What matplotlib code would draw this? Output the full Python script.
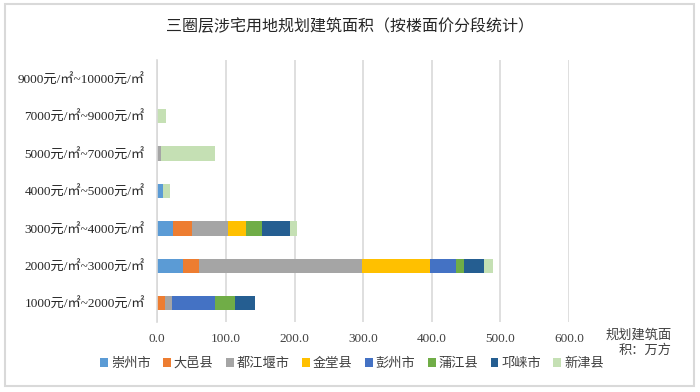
import matplotlib
matplotlib.use("Agg")
import matplotlib.pyplot as plt
from matplotlib.patches import Rectangle, Patch
import numpy as np

categories = ["1000元/㎡~2000元/㎡", "2000元/㎡~3000元/㎡", "3000元/㎡~4000元/㎡",
              "4000元/㎡~5000元/㎡", "5000元/㎡~7000元/㎡", "7000元/㎡~9000元/㎡",
              "9000元/㎡~10000元/㎡"]
series_names = ["崇州市", "大邑县", "都江堰市", "金堂县", "彭州市", "蒲江县", "邛崃市", "新津县"]
chongzhou = [0, 37.9, 23.3, 7.8, 0, 0, 0]
dayi = [11.7, 23.3, 27.2, 0, 0, 0, 0]
dujiangyan = [9.2, 237.6, 53.0, 0, 5.3, 0, 0]
jintang = [0, 98.6, 25.8, 0, 0, 0, 0]
pengzhou = [63.2, 37.4, 0, 0, 0, 0, 0]
pujiang = [29.2, 12.1, 23.3, 0, 0, 0, 0]
qionglai = [29.6, 28.7, 40.3, 0, 0, 0, 0]
xinjin = [0, 13.1, 11.2, 10.2, 78.2, 13.1, 0]
series = [chongzhou, dayi, dujiangyan, jintang, pengzhou, pujiang, qionglai, xinjin]
colors = ["#5B9BD5", "#ED7D31", "#A5A5A5", "#FFC000", "#4472C4", "#70AD47", "#255E91", "#C5E0B4"]
xticks = [0, 100, 200, 300, 400, 500, 600]
xlabel = "规划建筑面\n积：万方"
title = "三圈层涉宅用地规划建筑面积（按楼面价分段统计）"

fam = ["Liberation Serif", "Noto Sans CJK SC"]
plt.rcParams["font.family"] = fam

fig = plt.figure(figsize=(7.0, 3.92), dpi=100)
fig.patch.set_facecolor("white")
# outer border
fig.add_artist(Rectangle((5/700, 1-386/392), 689/700, 382/392, transform=fig.transFigure,
                         fill=False, edgecolor="#D9D9D9", linewidth=1.5))

ax = fig.add_axes([157.3/700, 1-322/392, (569-157.3)/700, 262/392])
y = np.arange(len(categories))
left = np.zeros(len(categories))
for vals, c, n in zip(series, colors, series_names):
    v = np.array(vals, dtype=float)
    ax.barh(y, v, left=left, height=0.38, color=c, label=n, linewidth=0)
    left += v

ax.set_xlim(0, 600)
ax.set_ylim(-0.5, len(categories) - 0.5)
ax.set_xticks(xticks)
ax.set_xticklabels([f"{t:.1f}" for t in xticks], fontsize=9.5, color="#404040")
ax.set_yticks(y)
ax.set_yticklabels(categories, fontsize=9.5, color="#262626")
ax.tick_params(axis="both", length=0)
ax.tick_params(axis="x", pad=8)
ax.tick_params(axis="y", pad=9)
for s in ["top", "right", "bottom"]:
    ax.spines[s].set_visible(False)
ax.spines["left"].set_color("#D9D9D9")
ax.spines["left"].set_linewidth(1.2)
ax.xaxis.grid(True, color="#D9D9D9", linewidth=1.2)
ax.set_axisbelow(True)

fig.text(0.5, 1-27/392, title, ha="center", va="center", fontsize=11.5,
         family=["Noto Sans CJK SC"], color="#262626")
fig.text(672/700, 1-343/392, xlabel, ha="right", va="center", fontsize=9.5,
         color="#404040", linespacing=1.3, multialignment="right")

handles = [Patch(facecolor=c, edgecolor="none") for c in colors]
leg = fig.legend(handles, series_names, loc="center", bbox_to_anchor=(352/700, 1-364/392),
                 ncol=8, frameon=False, fontsize=9.5, handlelength=0.6, handleheight=0.6,
                 handletextpad=0.2, columnspacing=0.95)
for t in leg.get_texts():
    t.set_color("#404040")

fig.savefig("out.png", dpi=100, facecolor="white")
